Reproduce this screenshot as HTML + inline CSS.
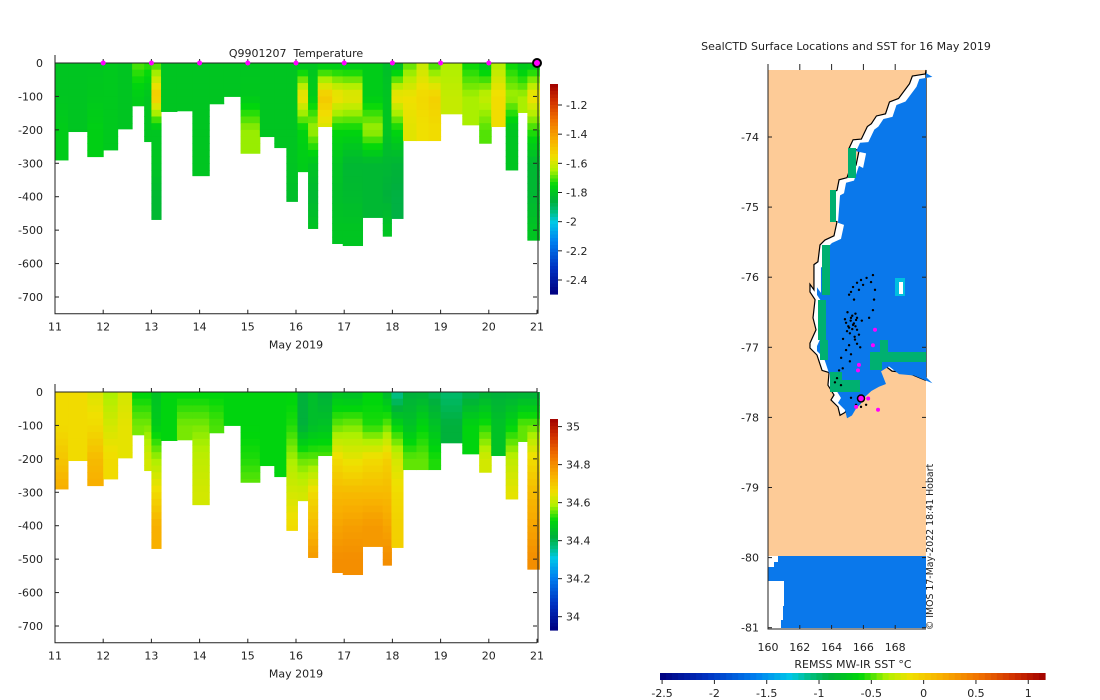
<!DOCTYPE html>
<html><head><meta charset="utf-8">
<style>
html,body{margin:0;padding:0;background:#fff;}
svg{display:block;font-family:"DejaVu Sans","Liberation Sans",sans-serif;}
text{fill:#222;font-size:11px;white-space:pre;}
text.small{font-size:9.4px;}
</style></head>
<body>
<svg id="fig" width="1100" height="700" viewBox="0 0 1100 700" xmlns="http://www.w3.org/2000/svg"></svg>
<script>
// ---------------- DATA ----------------
var colStart = [11,11.27,11.67,12,12.3,12.6,12.85,13,13.2,13.53,13.85,14.2,14.5,14.85,15.25,15.55,15.8,16.03,16.25,16.45,16.75,16.97,17.38,17.8,17.98,18.22,18.5,18.75,19,19.45,19.8,20.05,20.35,20.6,20.8];
var colEnd   = [11.27,11.67,12,12.3,12.6,12.85,13,13.2,13.53,13.85,14.2,14.5,14.85,15.25,15.55,15.8,16.03,16.25,16.45,16.75,16.97,17.38,17.8,17.98,18.22,18.5,18.75,19,19.45,19.8,20.05,20.35,20.6,20.8,21.05];
var colDepth = [290,205,280,260,197,128,235,468,145,143,337,122,100,270,220,253,414,325,495,190,540,546,462,518,465,232,232,232,152,185,240,190,320,148,530];
var profDepths = [0,100,200,300,400,500];
var tempProfiles = [
[-1.8,-1.8,-1.78,-1.78],[-1.8,-1.8,-1.8],[-1.8,-1.79,-1.77],[-1.79,-1.79,-1.79],[-1.8,-1.8],
[-1.7,-1.78],[-1.72,-1.8,-1.8],[-1.72,-1.5,-1.8,-1.8,-1.84],[-1.8,-1.8],[-1.8,-1.8],
[-1.8,-1.8,-1.8,-1.8],[-1.8,-1.8],[-1.8,-1.8],[-1.8,-1.79,-1.66],[-1.8,-1.8,-1.8],
[-1.8,-1.8,-1.8],[-1.8,-1.8,-1.8,-1.8,-1.82],[-1.82,-1.55,-1.76,-1.78],[-1.8,-1.78,-1.65,-1.8,-1.84,-1.8],[-1.8,-1.5,-1.6],
[-1.8,-1.55,-1.75,-1.8,-1.82,-1.8],[-1.8,-1.57,-1.75,-1.84,-1.83,-1.8],[-1.78,-1.78,-1.65,-1.84,-1.84],[-1.82,-1.8,-1.8,-1.84,-1.86,-1.8],[-1.84,-1.55,-1.75,-1.85,-1.87],
[-1.7,-1.56,-1.58],[-1.62,-1.54,-1.56],[-1.72,-1.52,-1.55],[-1.65,-1.62],[-1.75,-1.65],
[-1.8,-1.62,-1.7],[-1.65,-1.55],[-1.75,-1.65,-1.8,-1.8],[-1.8,-1.65],[-1.8,-1.55,-1.72,-1.84,-1.84,-1.8]];
var salProfiles = [
[34.66,34.66,34.7,34.75],[34.66,34.66,34.66],[34.63,34.66,34.72,34.75],[34.58,34.62,34.66],[34.62,34.64],
[34.5,34.56],[34.5,34.56,34.62],[34.46,34.48,34.58,34.66,34.74],[34.5,34.5],[34.5,34.56],
[34.5,34.56,34.6,34.62],[34.5,34.54],[34.5,34.5],[34.5,34.5,34.52,34.56],[34.5,34.5,34.5],
[34.5,34.5,34.5],[34.5,34.52,34.58,34.62,34.66],[34.42,34.42,34.55,34.62],[34.45,34.45,34.55,34.66,34.72,34.78],[34.42,34.46,34.55],
[34.46,34.55,34.66,34.72,34.76,34.8],[34.45,34.56,34.64,34.72,34.77,34.8],[34.5,34.52,34.66,34.72,34.78],[34.44,34.55,34.68,34.72,34.76,34.8],[34.35,34.5,34.62,34.66,34.68],
[34.42,34.46,34.55],[34.42,34.5,34.55],[34.4,34.46,34.52],[34.38,34.42],[34.4,34.5],
[34.42,34.52,34.62],[34.42,34.46],[34.42,34.5,34.6,34.64],[34.42,34.55],[34.42,34.55,34.66,34.72,34.76,34.8]];
var dayTicks = [11,12,13,14,15,16,17,18,19,20,21];
var depthTicks = [0,-100,-200,-300,-400,-500,-600,-700];
var markerDays = [12,13,14,15,16,17,18,19,20];
var lastDay = 21;
var tempCbTicks = [-1.2,-1.4,-1.6,-1.8,-2,-2.2,-2.4];
var salCbTicks = [35,34.8,34.6,34.4,34.2,34];
var sstTicks = [-2.5,-2,-1.5,-1,-0.5,0,0.5,1];
var lonTicks = [160,162,164,166,168];
var latTicks = [-74,-75,-76,-77,-78,-79,-80,-81];
var coastLon = [169.9,169.08,168.9,168.21,167.64,167.39,166.82,166.5,166.25,165.87,165.35,165.1,165.73,165.54,165.28,164.97,164.47,164.34,164.09,164.03,163.96,164.34,164.15,163.58,163.27,163.14,162.89,162.89,162.64,162.64,162.96,162.83,163.02,162.64,162.64,163.08,163.4,163.84,163.77,164.15,163.96,164.4,164.53,164.84,165.1,165.41,165.54,166.06,166.54,166.98,166.67,167.17,167.8,168.74,169.9];
var coastLat = [-73.1,-73.13,-73.24,-73.45,-73.5,-73.67,-73.7,-73.81,-73.85,-74.03,-74.04,-74.16,-74.19,-74.4,-74.37,-74.58,-74.61,-74.76,-74.79,-74.97,-75.18,-75.21,-75.41,-75.47,-75.54,-75.78,-75.82,-76.18,-76.1,-76.21,-76.32,-76.58,-76.75,-76.94,-77.01,-77.11,-77.33,-77.36,-77.54,-77.68,-77.75,-77.85,-77.97,-77.93,-77.83,-77.76,-77.69,-77.58,-77.52,-77.48,-77.3,-77.23,-77.34,-77.36,-77.47];
var trackLon = [166.6,166.2,165.85,165.6,165.35,165.22,165.1,165.41,165.72,165.98,166.48,166.73,166.67,166.6,166.36,165.54,165.22,164.91,165.1,165.35,165.6,165.72,165.47,165.1,164.91,164.6,164.47,164.34,164.21,164.59,165.22,165.54,165.85,166.17,164.84,164.97,164.72,165.22,165.6,165.0,165.3,165.5,165.9,164.7,165.15,165.8,165.2,165.4,165.6,165.05,165.3,165.5,165.15,165.45];
var trackLat = [-75.97,-76.01,-76.04,-76.08,-76.14,-76.21,-76.25,-76.32,-76.18,-76.11,-76.07,-76.18,-76.32,-76.47,-76.58,-76.61,-76.58,-76.65,-76.72,-76.68,-76.75,-76.82,-76.89,-76.97,-77.04,-77.15,-77.33,-77.44,-77.5,-77.54,-77.72,-77.82,-77.85,-77.82,-76.6,-76.77,-76.88,-77.1,-76.95,-76.5,-76.55,-76.7,-76.62,-77.3,-77.2,-77.0,-76.62,-76.66,-76.58,-76.7,-76.74,-76.52,-76.8,-76.85];
var pinkLon = [166.73,166.6,165.72,165.66,166.3,165.54,166.92];
var pinkLat = [-76.75,-76.97,-77.25,-77.33,-77.73,-77.85,-77.89];
var lastLon = 165.85, lastLat = -77.73;

// ---------------- HELPERS ----------------
var svg = document.getElementById('fig');
var NS = 'http://www.w3.org/2000/svg';
function el(tag, attrs, parent){var e=document.createElementNS(NS,tag);for(var k in attrs)e.setAttribute(k,attrs[k]);(parent||svg).appendChild(e);return e;}
function txt(x,y,s,anchor,parent,extra){var t=el('text',Object.assign({x:x,y:y,'text-anchor':anchor||'middle'},extra||{}),parent);t.textContent=s;return t;}
var stops=[[0,[0,0,127]],[0.12,[0,48,192]],[0.25,[0,128,240]],[0.34,[0,200,232]],[0.39,[0,190,130]],[0.44,[0,176,60]],[0.52,[0,215,10]],[0.59,[176,240,0]],[0.65,[240,224,0]],[0.73,[248,176,0]],[0.83,[240,112,0]],[0.92,[208,48,0]],[1,[160,0,0]]];
function cmap(f){f=Math.max(0,Math.min(1,f));for(var i=1;i<stops.length;i++){if(f<=stops[i][0]){var a=stops[i-1],b=stops[i],t=(f-a[0])/(b[0]-a[0]);var c=a[1].map(function(v,j){return Math.round(v+(b[1][j]-v)*t);});return 'rgb('+c.join(',')+')';}}return 'rgb(160,0,0)';}
function interp(prof,d){var i=Math.floor(d/100);if(i>=prof.length-1)return prof[prof.length-1];var t=(d-profDepths[i])/100;return prof[i]+(prof[i+1]-prof[i])*t;}

// ---------------- SECTION PLOTS ----------------
function section(cfg){
  var g=el('g',{});
  
  
  var x0=55,x1=537,y0=cfg.top,yScale=234/700;
  function X(d){return x0+(d-11)*(x1-x0)/10;}
  function Y(z){return y0-z*yScale;}
  var yBot=Y(-750);
  for(var c=0;c<colStart.length;c++){
    for(var d=0;d<colDepth[c];d+=20){
      var dd=Math.min(20,colDepth[c]-d);
      var v=interp(cfg.profiles[c],d+dd/2);
      var r=el('rect',{x:X(colStart[c]),y:Y(-d),width:X(colEnd[c])-X(colStart[c])+0.5,height:dd*yScale+0.5,fill:cmap((v-cfg.vmin)/(cfg.vmax-cfg.vmin))},g);
      
      
    }
  }
  var ax=el('path',{d:'M'+x0+' '+(y0-8)+'V'+yBot+'H'+x1+'M'+x0+' '+y0+'H'+x1+'M'+(x1+1)+' '+yBot+'V'+y0,stroke:'#222',fill:'none','stroke-width':1},g);
  
  
  dayTicks.forEach(function(d){
    el('line',{x1:X(d),x2:X(d),y1:yBot,y2:yBot-4,stroke:'#222'},g);
    el('line',{x1:X(d),x2:X(d),y1:y0,y2:y0-4,stroke:'#222'},g);
    var t=txt(X(d),yBot+17,String(d),'middle',g);
    
    
  });
  depthTicks.forEach(function(z){
    el('line',{x1:x0,x2:x0+4,y1:Y(z),y2:Y(z),stroke:'#222'},g);
    el('line',{x1:x1-4,x2:x1,y1:Y(z),y2:Y(z),stroke:'#222'},g);
    var t=txt(43,Y(z)+4,String(z),'end',g);
    
    
  });
  var xl=txt(296,yBot+35,'May 2019','middle',g);
  
  
  var cb=el('g',{},g);
  
  
  var cy0=cfg.cbTop,cy1=cfg.cbBot,n=60;
  for(var i=0;i<n;i++){el('rect',{x:550,y:cy0+(cy1-cy0)*i/n,width:8,height:(cy1-cy0)/n+0.6,fill:cmap(1-(i+0.5)/n)},cb);}
  cfg.cbTicks.forEach(function(v){
    var yy=cy0+(cfg.vmax-v)/(cfg.vmax-cfg.vmin)*(cy1-cy0);
    el('line',{x1:558,x2:562,y1:yy,y2:yy,stroke:'#222'},cb);
    txt(566,yy+4,String(v),'start',cb);
  });
  return {X:X,Y:Y,g:g};
}
var tplot=section({name:'temperature-section',top:63,profiles:tempProfiles,vmin:-2.496,vmax:-1.056,cbTop:84,cbBot:294,cbTicks:tempCbTicks});
var tt=txt(296,57,'Q9901207  Temperature','middle');


markerDays.forEach(function(d){
  var m=el('circle',{cx:tplot.X(d),cy:63,r:2.5,fill:'#ff00ff'});
  
  
});
var lm=el('circle',{cx:tplot.X(lastDay),cy:63,r:4,fill:'#ff00ff',stroke:'#000','stroke-width':2});


section({name:'salinity-section',top:392,profiles:salProfiles,vmin:33.93,vmax:35.04,cbTop:419,cbBot:630,cbTicks:salCbTicks});

// ---------------- MAP ----------------
var mg=el('g',{});


function LX(lon){return 768+(lon-160)*15.9;}
function LY(lat){return 137+(-74-lat)*70.1;}
el('rect',{x:768,y:70,width:158,height:486,fill:'#fdcb97'},mg);
var pts=coastLon.map(function(l,i){return LX(l)+','+LY(coastLat[i]);});
pts.push('926,380','926,70');
var ocean=el('polygon',{points:pts.join(' '),fill:'#ffffff',stroke:'#000','stroke-width':1.2},mg);


var inner=coastLon.map(function(l,i){return (LX(l)+7)+','+(LY(coastLat[i])+3);});
inner.push('926,377','926,73');
el('polygon',{points:inner.join(' '),fill:'#0a78eb'},mg);
[[848,148,8,30],[830,190,6,32],[822,245,8,50],[818,300,8,40],[820,340,8,20],[830,372,12,20],[840,380,20,12],[870,352,12,18],[878,352,48,10],[880,340,8,14]].forEach(function(r){
  el('rect',{x:r[0],y:r[1],width:r[2],height:r[3],fill:'#00b070'},mg);
});
el('rect',{x:895,y:278,width:10,height:18,fill:'#00bfe0'},mg);
el('rect',{x:899,y:282,width:4,height:12,fill:'#fff'},mg);
el('rect',{x:768,y:556,width:158,height:72,fill:'#0a78eb'},mg);
el('path',{d:'M768 556H778V562H774V567H768Z M768 581H784V606H783V620H781V628H768Z',fill:'#fff'},mg);
trackLon.forEach(function(l,i){
  var d=el('circle',{cx:LX(l),cy:LY(trackLat[i]),r:1.2,fill:'#000'},mg);
  
  
});
pinkLon.forEach(function(l,i){
  var d=el('circle',{cx:LX(l),cy:LY(pinkLat[i]),r:2,fill:'#ff00ff'},mg);
  
  
});
var lp=el('circle',{cx:LX(lastLon),cy:LY(lastLat),r:3.5,fill:'#ff00ff',stroke:'#000','stroke-width':1.5},mg);


el('path',{d:'M768 64V629H926',fill:'none',stroke:'#222','stroke-width':1},mg);
latTicks.forEach(function(la){
  el('line',{x1:768,x2:772,y1:LY(la),y2:LY(la),stroke:'#222'},mg);
  el('line',{x1:922,x2:926,y1:LY(la),y2:LY(la),stroke:'#222'},mg);
  var t=txt(759,LY(la)+4,String(la),'end',mg);
  
  
});
lonTicks.forEach(function(lo){
  el('line',{x1:LX(lo),x2:LX(lo),y1:629,y2:625,stroke:'#222'},mg);
  el('line',{x1:LX(lo),x2:LX(lo),y1:64,y2:70,stroke:'#222'},mg);
  var t=txt(LX(lo),651,String(lo),'middle',mg);
  
  
});
var mt=txt(846,50,'SealCTD Surface Locations and SST for 16 May 2019','middle');


var cr=txt(0,0,'© IMOS 17-May-2022 18:41 Hobart','middle',null,{transform:'translate(933,547) rotate(-90)','class':'small'});


var sg=el('g',{});


var sx0=660,sx1=1045,smin=-2.52,smax=1.16,nn=64;
for(var i=0;i<nn;i++){el('rect',{x:sx0+(sx1-sx0)*i/nn,y:673,width:(sx1-sx0)/nn+0.6,height:7,fill:cmap((i+0.5)/nn)},sg);}
sstTicks.forEach(function(v){
  var xx=sx0+(v-smin)/(smax-smin)*(sx1-sx0);
  el('line',{x1:xx,x2:xx,y1:680,y2:684,stroke:'#222'},sg);
  txt(xx,697,String(v),'middle',sg);
});
var st=txt(853,668,'REMSS MW-IR SST °C','middle',sg);


</script>
</body></html>
